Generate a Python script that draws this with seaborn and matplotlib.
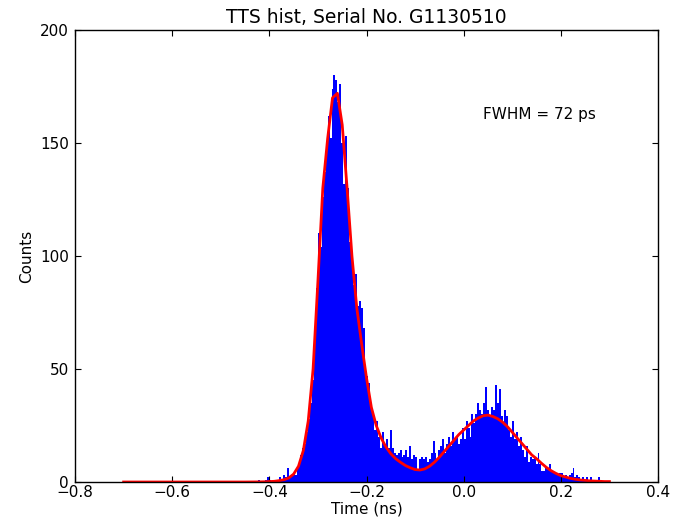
import numpy as np
import pandas as pd
import matplotlib
matplotlib.use("Agg")
import matplotlib.pyplot as plt
import seaborn as sns

# ---- data ----
bin_start = -0.424
bin_width = 0.004
counts = [
    1, 0, 0, 0, 1, 2, 1, 0, 1, 0,
    1, 2, 1, 3, 2, 6, 2, 3, 4, 3,
    7, 9, 12, 15, 17, 22, 28, 35, 45, 66,
    86, 110, 104, 126, 137, 150, 162, 152, 174, 180,
    178, 168, 176, 150, 132, 153, 130, 106, 100, 87,
    92, 78, 80, 77, 68, 48, 47, 44, 35, 30,
    23, 27, 20, 15, 22, 17, 19, 15, 23, 15,
    13, 12, 13, 14, 11, 12, 14, 11, 16, 10,
    12, 11, 5, 10, 11, 10, 11, 9, 10, 13,
    18, 13, 10, 14, 16, 19, 13, 17, 20, 16,
    22, 19, 20, 17, 19, 24, 19, 27, 24, 20,
    30, 26, 30, 35, 32, 30, 35, 42, 32, 29,
    33, 32, 43, 35, 41, 29, 26, 32, 29, 23,
    20, 27, 19, 22, 16, 20, 14, 11, 16, 9,
    11, 10, 11, 8, 13, 8, 5, 5, 7, 6,
    8, 5, 4, 4, 3, 4, 4, 2, 3, 2,
    3, 4, 6, 2, 3, 2, 1, 2, 1, 2,
    1, 2, 1, 0, 1, 2, 1, 0, 0, 0,
    0,
]

fit_t = [
    -0.70, -0.65, -0.60, -0.55, -0.50, -0.45, -0.42, -0.41,
    -0.40, -0.39, -0.38, -0.37, -0.36, -0.35, -0.34, -0.33, -0.32, -0.31,
    -0.30, -0.29, -0.28, -0.27, -0.26, -0.25, -0.24, -0.23, -0.22, -0.21,
    -0.20, -0.19, -0.18, -0.17, -0.16, -0.15, -0.14, -0.13, -0.12, -0.11,
    -0.10, -0.09, -0.08, -0.07, -0.06, -0.05, -0.04, -0.03, -0.02, -0.01,
    0.00, 0.01, 0.02, 0.03, 0.04, 0.05, 0.06, 0.07, 0.08, 0.09,
    0.10, 0.11, 0.12, 0.13, 0.14, 0.15, 0.16, 0.17, 0.18, 0.19,
    0.20, 0.21, 0.22, 0.23, 0.24, 0.25, 0.26, 0.27, 0.28, 0.29, 0.30,
]
fit_counts = [
    0, 0, 0, 0, 0, 0, 0.05, 0.1,
    0.2, 0.3, 0.6, 1.0, 1.8, 3.5, 7, 14, 27, 50,
    89, 130, 152, 170, 172, 158, 130, 100, 77, 61,
    46, 33, 25, 19.5, 15.5, 12.5, 10.3, 8.7, 7.3, 6.3,
    5.5, 5.3, 5.8, 7, 8.8, 11, 13.5, 16, 18.5, 21,
    23, 25, 27, 28.3, 29.3, 29.6, 29, 28, 26.5, 24.5,
    22, 19.5, 17, 14.5, 12, 10.3, 8.3, 6.5, 5.0, 3.8,
    2.8, 2.2, 1.6, 1.2, 0.9, 0.7, 0.5, 0.4, 0.3, 0.2, 0.2,
]

title = "TTS hist, Serial No. G1130510"
annotation = "FWHM = 72 ps"
x_ticks = [-0.8, -0.6, -0.4, -0.2, 0.0, 0.2, 0.4]
x_tick_labels = ["\u22120.8", "\u22120.6", "\u22120.4", "\u22120.2", "0.0", "0.2", "0.4"]
y_ticks = [0, 50, 100, 150, 200]

# ---- plotting ----
plt.rcParams["font.family"] = ["DejaVu Sans"]
plt.rcParams["xtick.direction"] = "in"
plt.rcParams["ytick.direction"] = "in"
plt.rcParams["xtick.top"] = True
plt.rcParams["ytick.right"] = True
plt.rcParams["xtick.major.size"] = 4
plt.rcParams["ytick.major.size"] = 4

fig = plt.figure(figsize=(6.79, 5.19), dpi=100)
ax = fig.add_axes([0.1105, 0.0713, 0.8586, 0.8709])

n = len(counts)
centers = bin_start + bin_width * (np.arange(n) + 0.5)
df = pd.DataFrame({"t": centers, "c": np.asarray(counts, dtype=float)})
sns.histplot(data=df, x="t", weights="c", binwidth=bin_width,
             binrange=(bin_start, bin_start + n * bin_width), ax=ax,
             color="#0000ff", alpha=1.0, edgecolor="none", linewidth=0)

fit_df = pd.DataFrame({"t": fit_t, "c": fit_counts})
sns.lineplot(data=fit_df, x="t", y="c", ax=ax, color="red", linewidth=2)

ax.set_xlim(-0.8, 0.4)
ax.set_ylim(0, 200)
ax.set_xticks(x_ticks)
ax.set_yticks(y_ticks)
ax.set_xticklabels(x_tick_labels)
ax.tick_params(labelsize=11, width=0.8)
ax.tick_params(axis="x", pad=2.5)
ax.tick_params(axis="y", pad=4.5)
ax.set_xlabel("Time (ns)", fontsize=11, labelpad=1)
ax.set_ylabel("Counts", fontsize=11, labelpad=4)
ax.set_title(title, fontsize=13.5, pad=5)
ax.text(0.04, 162.5, annotation, fontsize=11, ha="left", va="center")
for s in ax.spines.values():
    s.set_linewidth(1.0)

fig.savefig("out.png", dpi=100)
